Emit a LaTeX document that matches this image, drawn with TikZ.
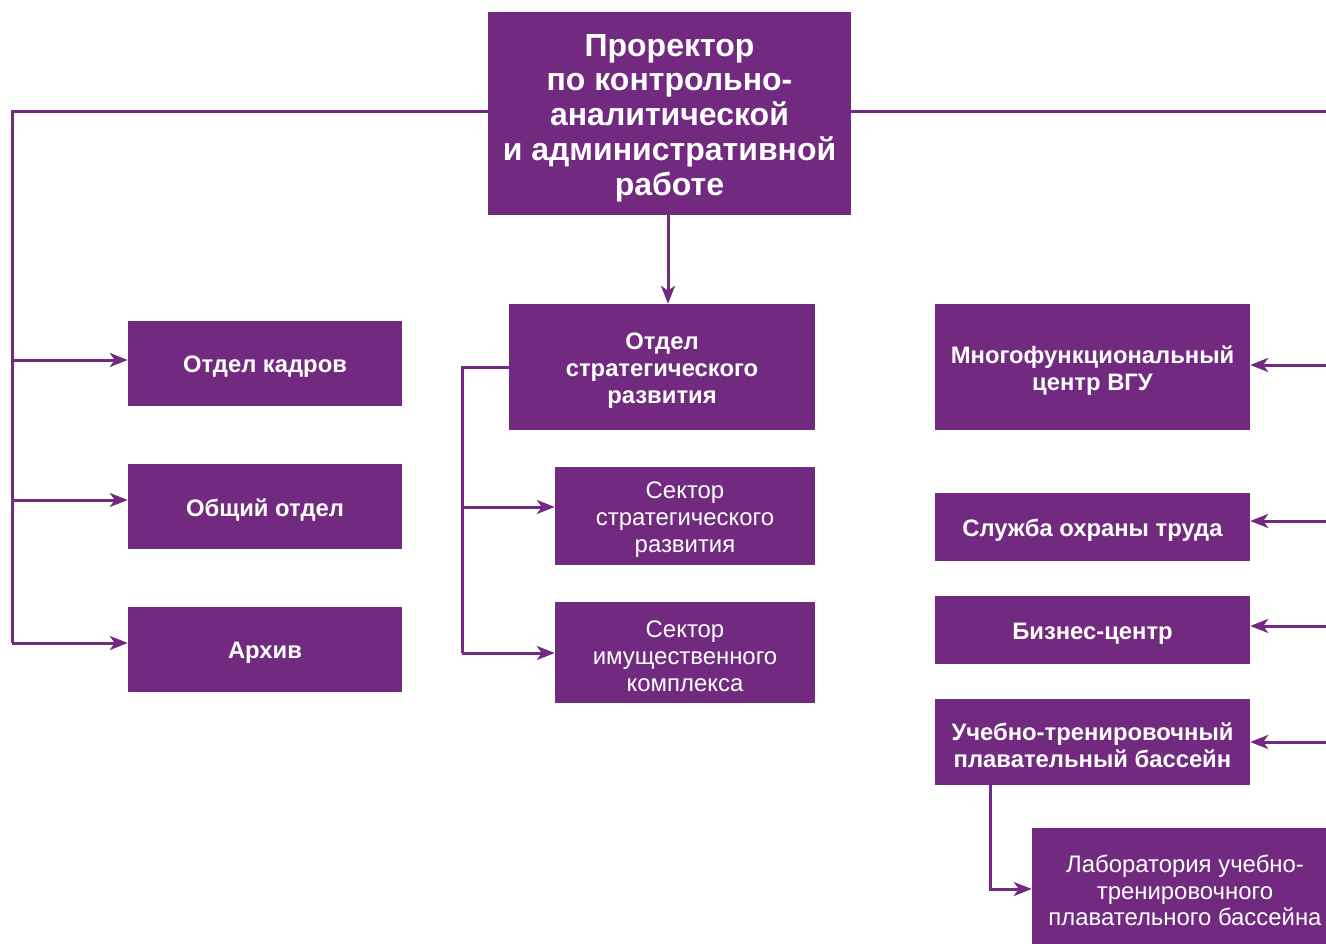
\documentclass[tikz,border=0pt]{standalone}
\usepackage{fontspec}
\setmainfont{Liberation Sans}
\usetikzlibrary{arrows.meta}
\definecolor{pur}{RGB}{114,41,128}
\tikzset{
  box/.style={fill=pur, draw=none, inner sep=0pt, anchor=center},
  txt/.style={text=white, align=center, inner sep=0pt, anchor=center, yshift=-3.5pt},
  bb/.style={txt, font={\fontsize{23.8}{26.8}\selectfont\bfseries}},
  rr/.style={txt, font={\fontsize{23.9}{26.8}\selectfont}},
  conn/.style={draw=pur, line width=3pt},
  arr/.style={conn, -{Stealth[length=18pt, width=14pt, inset=5pt]}},
}
\begin{document}
\begin{tikzpicture}[x=1pt, y=-1pt]
\useasboundingbox (0,0) rectangle (1326,944);
\clip (0,0) rectangle (1326,944);
% boxes
\node[box, minimum width=363pt, minimum height=203pt] (top) at (669.5,113.5) {};
\node[box, minimum width=274pt, minimum height=85pt] (kadr) at (265,363.5) {};
\node[box, minimum width=274pt, minimum height=85pt] (obsh) at (265,506.5) {};
\node[box, minimum width=274pt, minimum height=85pt] (arch) at (265,649.5) {};
\node[box, minimum width=306pt, minimum height=126pt] (osr) at (662,367) {};
\node[box, minimum width=260pt, minimum height=98pt] (ssr) at (685,516) {};
\node[box, minimum width=260pt, minimum height=101pt] (sik) at (685,652.5) {};
\node[box, minimum width=315pt, minimum height=126pt] (mfc) at (1092.5,367) {};
\node[box, minimum width=315pt, minimum height=68pt] (sot) at (1092.5,527) {};
\node[box, minimum width=315pt, minimum height=68pt] (biz) at (1092.5,630) {};
\node[box, minimum width=315pt, minimum height=86pt] (bas) at (1092.5,742) {};
\node[box, minimum width=306pt, minimum height=118pt] (lab) at (1185,887) {};
% texts
\node[txt, yshift=-1pt, font={\fontsize{32}{34.7}\selectfont\bfseries}] (topT) at (top) {Проректор\\по контрольно-\\аналитической\\и административной\\работе};
\node[bb] (kadrT) at (kadr) {Отдел кадров};
\node[bb] (obshT) at (obsh) {Общий отдел};
\node[bb] (archT) at (arch) {Архив};
\node[bb] (osrT) at (osr) {Отдел\\стратегического\\развития};
\node[rr] (ssrT) at (ssr) {Сектор\\стратегического\\развития};
\node[rr] (sikT) at (sik) {Сектор\\имущественного\\комплекса};
\node[bb] (mfcT) at (mfc) {Многофункциональный\\центр ВГУ};
\node[bb] (sotT) at (sot) {Служба охраны труда};
\node[bb] (bizT) at (biz) {Бизнес-центр};
\node[bb] (basT) at (bas) {Учебно-тренировочный\\плавательный бассейн};
\node[rr] (labT) at (lab) {Лаборатория учебно-\\тренировочного\\плавательного бассейна};
% left branch
\coordinate (L0) at (12,112);
\draw[conn] (top.west |- 0,112) -- (L0) -- (12,643);
\draw[arr] (12,360) -- (kadr.west |- 0,360);
\draw[arr] (12,500) -- (obsh.west |- 0,500);
\draw[arr] (12,643) -- (arch.west |- 0,643);
% center
\draw[arr] (top.south -| 668,0) -- (osr.north -| 668,0);
\draw[conn] (osr.west |- 0,367) -- (462,367) -- (462,653);
\draw[arr] (462,507) -- (ssr.west |- 0,507);
\draw[arr] (462,653) -- (sik.west |- 0,653);
% right branch
\coordinate (R0) at (1340,112);
\draw[conn] (top.east |- 0,112) -- (R0) -- (1340,742);
\draw[arr] (1340,365) -- (mfc.east |- 0,365);
\draw[arr] (1340,521) -- (sot.east |- 0,521);
\draw[arr] (1340,626) -- (biz.east |- 0,626);
\draw[arr] (1340,742) -- (bas.east |- 0,742);
% pool to lab
\draw[arr] (bas.south -| 990,0) -- (990,889) -- (lab.west |- 0,889);
\end{tikzpicture}
\end{document}
